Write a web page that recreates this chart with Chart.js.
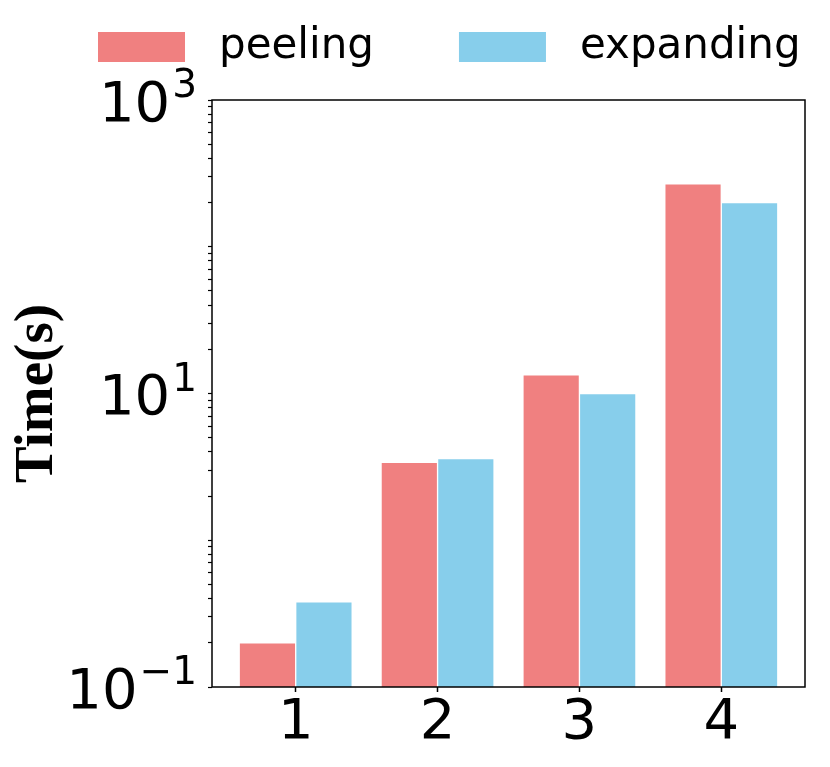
<!DOCTYPE html>
<html>
<head>
<meta charset="utf-8">
<script src="https://cdn.jsdelivr.net/npm/chart.js@4.4.1/dist/chart.umd.min.js"></script>
<style>
  body { margin: 0; background: #fff; }
  #wrap { width: 830px; height: 767px; }
</style>
</head>
<body>
<div id="wrap"><canvas id="timeChart"></canvas></div>
<script>
const categories = ['1', '2', '3', '4'];
const peeling = [0.2, 3.4, 13.4, 268];
const expanding = [0.38, 3.6, 10, 200];
const yTickValues = [0.1, 10, 1000];
const yTickExponents = ['\u22121', '1', '3'];

function toPoints(values) {
  return values.map((v, i) => ({ x: i, y: v }));
}

// 1..9 per decade for the minor ticks
function logTicks(min, max) {
  const ticks = [];
  for (let d = min; d < max * 0.999; d *= 10) {
    for (let k = 1; k < 10; k++) ticks.push({ value: k * d });
  }
  ticks.push({ value: max });
  return ticks;
}

const font = 'DejaVu Sans';

// box around the plot like matplotlib spines
const frame = {
  id: 'frame',
  afterDatasetsDraw(chart) {
    const { ctx, chartArea: a } = chart;
    ctx.save();
    ctx.strokeStyle = '#000';
    ctx.lineWidth = 1.5;
    ctx.strokeRect(a.left, a.top, a.right - a.left, a.bottom - a.top);
    ctx.restore();
  }
};

// 10^n labels with a real raised exponent, placed with the y scale
const powerLabels = {
  id: 'powerLabels',
  afterDraw(chart) {
    const { ctx, scales: { y } } = chart;
    ctx.save();
    ctx.fillStyle = '#000';
    ctx.textAlign = 'right';
    ctx.textBaseline = 'alphabetic';
    yTickValues.forEach((v, i) => {
      const py = y.getPixelForValue(v);
      const right = y.right - 15;
      ctx.font = `39px "${font}"`;
      ctx.fillText(yTickExponents[i], right, py - 3);
      const w = ctx.measureText(yTickExponents[i]).width;
      ctx.font = `56px "${font}"`;
      ctx.fillText('10', right - w - 2, py + 20.5);
    });
    ctx.restore();
  }
};

// legend in one row above the plot, spaced wider than the built-in one allows
const topLegend = {
  id: 'topLegend',
  afterDraw(chart) {
    const ctx = chart.ctx;
    ctx.save();
    ctx.font = `42px "${font}"`;
    ctx.textBaseline = 'middle';
    let x = 98;
    chart.data.datasets.forEach(ds => {
      ctx.fillStyle = ds.backgroundColor;
      ctx.fillRect(x, 32, 87, 30);
      ctx.fillStyle = '#000';
      ctx.fillText(ds.label, x + 121, 47);
      x += 121 + ctx.measureText(ds.label).width + 85;
    });
    ctx.restore();
  }
};

new Chart(document.getElementById('timeChart'), {
  type: 'bar',
  data: {
    datasets: [
      { label: 'peeling', data: toPoints(peeling), backgroundColor: '#F08080',
        borderColor: 'rgba(255,255,255,0.6)', borderWidth: 1, barThickness: 56.5 },
      { label: 'expanding', data: toPoints(expanding), backgroundColor: '#87CEEB',
        borderColor: 'rgba(255,255,255,0.6)', borderWidth: 1, barThickness: 56.5 }
    ]
  },
  options: {
    responsive: true,
    maintainAspectRatio: false,
    animation: false,
    events: [],
    layout: { padding: { top: 100, left: 10, right: 25, bottom: 0 } },
    plugins: {
      legend: { display: false },
      tooltip: { enabled: false }
    },
    scales: {
      x: {
        type: 'linear',
        min: -0.59,
        max: 3.59,
        offset: false,
        afterBuildTicks: s => { s.ticks = categories.map((c, i) => ({ value: i })); },
        afterFit: s => { s.height = 80; },
        border: { display: false },
        grid: { offset: false, drawOnChartArea: false, tickLength: 5, tickColor: '#000', tickWidth: 1.5 },
        ticks: {
          callback: v => categories[v],
          color: '#000',
          padding: -2,
          maxRotation: 0,
          font: { size: 56, family: font }
        }
      },
      y: {
        type: 'logarithmic',
        min: 0.1,
        max: 1000,
        afterBuildTicks: s => { s.ticks = logTicks(0.1, 1000); },
        afterFit: s => { s.width = 202; },
        border: { display: false },
        grid: { drawOnChartArea: false, tickLength: 4, tickColor: '#000', tickWidth: 1.2 },
        ticks: { display: false },
        title: {
          display: true,
          text: 'Time(s)',
          color: '#000',
          padding: { top: 0, bottom: 8 },
          font: { family: 'Liberation Serif', weight: 'bold', size: 55, lineHeight: 1 }
        }
      }
    }
  },
  plugins: [frame, powerLabels, topLegend]
});
</script>
</body>
</html>
